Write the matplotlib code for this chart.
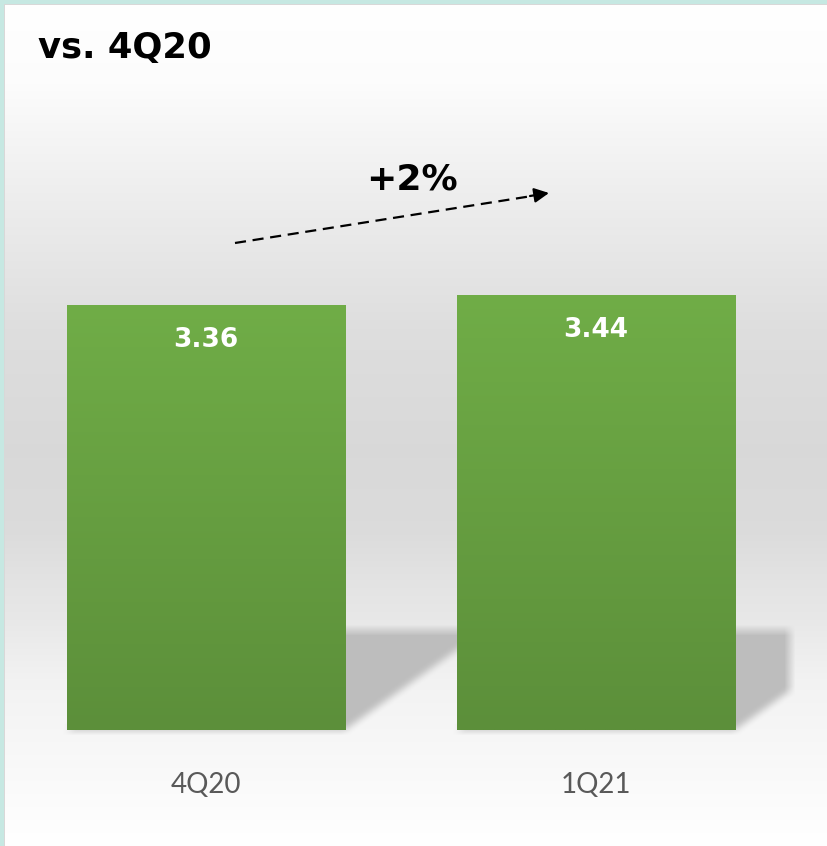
import numpy as np
import matplotlib
matplotlib.use("Agg")
import matplotlib.pyplot as plt

# data
categories = ["4Q20", "1Q21"]
values = [3.36, 3.44]
value_labels = ["3.36", "3.44"]
title = "vs. 4Q20"
change_label = "+2%"

W, H = 828, 846
fig = plt.figure(figsize=(W / 100, H / 100), dpi=100)
fig.patch.set_facecolor("white")

# background axes in pixel space (origin top-left)
bg = fig.add_axes([0, 0, 1, 1], zorder=0)
bg.set_xlim(0, W)
bg.set_ylim(H, 0)
bg.axis("off")

# main chart axes
base_px, top_px = 730, 100
ax = fig.add_axes([0, (H - base_px) / H, 1, (base_px - top_px) / H], zorder=1)
ax.patch.set_alpha(0)
x = np.arange(len(categories))
bar_w = 0.713
bars = ax.bar(x, values, width=bar_w, color="none", edgecolor="none", zorder=2)
ax.set_xlim(-0.528, 1.595)
ax.set_ylim(0, 4.98)

# green vertical gradient inside each bar
top_c = np.array([112, 173, 71]) / 255
bot_c = np.array([92, 143, 58]) / 255
t = np.linspace(0, 1, 256)[:, None]
grad = (top_c * (1 - t) + bot_c * t)[:, None, :]
for xi, v, b in zip(x, values, bars):
    im = ax.imshow(grad, extent=[xi - bar_w / 2, xi + bar_w / 2, 0, v],
                   aspect="auto", zorder=2, interpolation="bilinear")
    im.set_clip_path(b)
ax.set_xlim(-0.528, 1.595)
ax.set_ylim(0, 4.98)

for xi, v, lab in zip(x, values, value_labels):
    ax.text(xi, v - 0.28, lab, ha="center", va="center", color="white",
            fontsize=19, fontweight="bold", family="DejaVu Sans", zorder=3)

ax.set_xticks(x)
ax.set_xticklabels(categories, fontsize=20, color="#595959", family="Lato")
ax.tick_params(axis="x", length=0, pad=30)
ax.set_yticks([])
for s in ax.spines.values():
    s.set_visible(False)

# background: soft gray gradient and perspective shadows behind the bars
rows = np.arange(H)[:, None] + 0.5
cols = np.arange(W)[None, :] + 0.5
g = np.interp(rows[:, 0],
              [0, 80, 200, 330, 450, 530, 580, 620, 680, 730, H],
              [1.0, 0.99, 0.93, 0.87, 0.85, 0.86, 0.89, 0.91, 0.95, 0.965, 1.0])
img = np.repeat(g[:, None], W, axis=1)

mask = np.zeros((H, W))
plot_right = 790
for b in bars:
    (x0, y0), (x1, y1) = ax.transData.transform([[b.get_x(), 0],
                                                 [b.get_x() + b.get_width(), 0]])
    base_row = H - y0
    h = base_row - rows
    inside = (h >= 0) & (h <= 100) & (cols <= x1 + 1.4 * h) & (cols >= x0 + 1.4 * h) & (cols <= plot_right)
    mask = np.maximum(mask, inside.astype(float))

def box_blur(a, r):
    k = np.ones(2 * r + 1) / (2 * r + 1)
    a = np.apply_along_axis(lambda m: np.convolve(m, k, mode="same"), 0, a)
    a = np.apply_along_axis(lambda m: np.convolve(m, k, mode="same"), 1, a)
    return a

mask = box_blur(mask, 5)
img = img * (1 - mask) + 0.745 * mask

rgb = np.dstack([img, img, img])
# teal frame at top and left
teal = np.array([0.78, 0.91, 0.89])
rgb[:4, :, :] = teal
rgb[:, :4, :] = teal
rgb[4, 4:, :] = 0.85
rgb[4:, 4, :] = 0.85
bg.imshow(rgb, extent=[0, W, H, 0], aspect="auto", interpolation="nearest")
bg.set_xlim(0, W)
bg.set_ylim(H, 0)

# title and change annotation
fig.text(38 / W, (H - 58) / H, title, fontsize=25.5, fontweight="bold",
         family="DejaVu Sans", ha="left", va="baseline", color="black")
fig.text(412 / W, (H - 190) / H, change_label, fontsize=26, fontweight="bold",
         family="DejaVu Sans", ha="center", va="baseline", color="black")

bg.plot([235, 532], [243, 196], color="black", lw=1.6, linestyle=(0, (5, 3)))
bg.annotate("", xy=(549, 193), xytext=(530, 196),
            arrowprops=dict(arrowstyle="-|>", color="black", lw=1.6,
                            mutation_scale=22, shrinkA=0, shrinkB=0))

fig.savefig("out.png", dpi=100)
